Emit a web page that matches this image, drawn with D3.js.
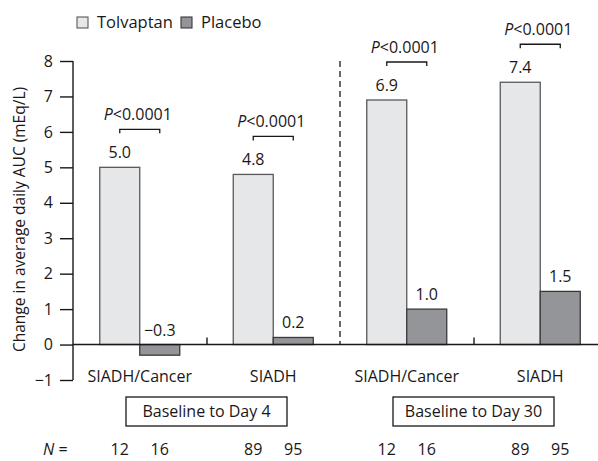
<!DOCTYPE html>
<html>
<head>
<meta charset="utf-8">
<script src="https://cdn.jsdelivr.net/npm/d3@7"></script>
<style>
  html, body { margin: 0; padding: 0; background: #fff; }
  svg { display: block; font-family: "Open Sans", "Noto Sans", sans-serif; }
</style>
</head>
<body>
<svg id="chart" width="598" height="461"></svg>
<script>
// Change in average daily serum sodium AUC, by subgroup and period
const groups = ["SIADH/Cancer (D4)", "SIADH (D4)", "SIADH/Cancer (D30)", "SIADH (D30)"];
const groupLabels = ["SIADH/Cancer", "SIADH", "SIADH/Cancer", "SIADH"];
const series = ["Tolvaptan", "Placebo"];
const tolvaptan = [5.0, 4.8, 6.9, 7.4];
const placebo = [-0.3, 0.2, 1.0, 1.5];
const nTolvaptan = [12, 89, 12, 89];
const nPlacebo = [16, 95, 16, 95];
const pValues = ["<0.0001", "<0.0001", "<0.0001", "<0.0001"];
const periods = ["Baseline to Day 4", "Baseline to Day 30"];
const yTicks = [-1, 0, 1, 2, 3, 4, 5, 6, 7, 8];

const colors = { Tolvaptan: "#e6e7e8", Placebo: "#939598" };
const ink = "#1a1718";
const fs = "16px";

const svg = d3.select("#chart");

const x = d3.scaleBand().domain(groups).range([73, 607]).paddingInner(0).paddingOuter(0);
const xs = d3.scaleBand().domain(series).range([0, 80]);
const y = d3.scaleLinear().domain([-1, 8]).range([380, 61]);

const barOffset = (x.bandwidth() - 80) / 2;

// Y axis
const yAxis = d3.axisLeft(y).tickValues(yTicks).tickSize(13).tickPadding(7)
  .tickFormat(d => d < 0 ? "\u2212" + Math.abs(d) : d);
const gy = svg.append("g").attr("transform", "translate(73,0)").call(yAxis);
gy.select(".domain").attr("d", `M0,${y(8)}V${y(-1)}`).attr("stroke", ink).attr("stroke-width", 1.4);
gy.selectAll(".tick line").attr("stroke", ink).attr("stroke-width", 1.4);
gy.selectAll(".tick text").attr("fill", ink).style("font-size", fs)
  .style("font-family", '"Open Sans", sans-serif');

// Y title
svg.append("text")
  .attr("transform", `translate(25,${(y(8) + y(-1)) / 2 - 1}) rotate(-90)`)
  .attr("text-anchor", "middle")
  .attr("fill", ink)
  .style("font-size", "15.5px")
  .text("Change in average daily AUC (mEq/L)");

// Bars
const data = groups.flatMap((g, i) => [
  { group: g, s: "Tolvaptan", v: tolvaptan[i], n: nTolvaptan[i] },
  { group: g, s: "Placebo", v: placebo[i], n: nPlacebo[i] }
]);

svg.append("g").selectAll("rect").data(data).join("rect")
  .attr("x", d => x(d.group) + barOffset + xs(d.s))
  .attr("width", xs.bandwidth())
  .attr("y", d => y(Math.max(0, d.v)))
  .attr("height", d => Math.abs(y(d.v) - y(0)))
  .attr("fill", d => colors[d.s])
  .attr("stroke", d => d.s === "Tolvaptan" ? "#58595b" : "#3a3a3c")
  .attr("stroke-width", 1.3);

// Value labels
svg.append("g").selectAll("text").data(data).join("text")
  .attr("x", d => x(d.group) + barOffset + xs(d.s) + xs.bandwidth() / 2)
  .attr("y", d => y(Math.max(0, d.v)) - 9)
  .attr("text-anchor", "middle")
  .attr("fill", ink)
  .style("font-size", fs)
  .text(d => d.v < 0 ? "\u2212" + Math.abs(d.v).toFixed(1) : d.v.toFixed(1));

// Zero baseline and group separators
svg.append("line")
  .attr("x1", 73).attr("x2", 598).attr("y1", y(0)).attr("y2", y(0))
  .attr("stroke", ink).attr("stroke-width", 1.4);
[groups[1], groups[3]].forEach(g => {
  const xp = x(g) + 0.5;
  svg.append("line").attr("x1", xp).attr("x2", xp)
    .attr("y1", y(0)).attr("y2", y(0) - 7)
    .attr("stroke", ink).attr("stroke-width", 1.4);
});
svg.append("line")
  .attr("x1", x(groups[2])).attr("x2", x(groups[2]))
  .attr("y1", y(8)).attr("y2", y(0))
  .attr("stroke", ink).attr("stroke-width", 1.3)
  .attr("stroke-dasharray", "6,4");

// Significance brackets
groups.forEach((g, i) => {
  const x1 = x(g) + barOffset + xs.bandwidth() / 2;
  const x2 = x1 + xs.bandwidth();
  const top = y(Math.max(tolvaptan[i], placebo[i]));
  const by = top - 38;
  svg.append("path")
    .attr("d", `M${x1},${by + 4}V${by}H${x2}V${by + 4}`)
    .attr("fill", "none").attr("stroke", ink).attr("stroke-width", 1.3);
  const t = svg.append("text")
    .attr("x", (x1 + x2) / 2 - 2).attr("y", by - 9)
    .attr("text-anchor", "middle").attr("fill", ink)
    .style("font-size", fs);
  t.append("tspan").style("font-style", "italic").text("P");
  t.append("tspan").text(pValues[i]);
});

// Category labels
svg.append("g").selectAll("text").data(groups).join("text")
  .attr("x", d => x(d) + x.bandwidth() / 2)
  .attr("y", 382)
  .attr("text-anchor", "middle").attr("fill", ink)
  .style("font-size", fs)
  .text((d, i) => groupLabels[i]);

// Period boxes
periods.forEach((p, i) => {
  const cx = (x(groups[2 * i]) + x(groups[2 * i + 1]) + x.bandwidth()) / 2;
  const w = 161, h = 29;
  svg.append("rect")
    .attr("x", cx - w / 2).attr("y", 397).attr("width", w).attr("height", h)
    .attr("fill", "#fff").attr("stroke", ink).attr("stroke-width", 1.3);
  svg.append("text")
    .attr("x", cx).attr("y", 417)
    .attr("text-anchor", "middle").attr("fill", ink)
    .style("font-size", fs).text(p);
});

// Sample sizes
const nY = 455;
const nRow = svg.append("text").attr("x", 43).attr("y", nY).attr("fill", ink).style("font-size", fs);
nRow.append("tspan").style("font-style", "italic").text("N");
nRow.append("tspan").text(" =");
svg.append("g").selectAll("text").data(data).join("text")
  .attr("x", d => x(d.group) + barOffset + xs(d.s) + xs.bandwidth() / 2)
  .attr("y", nY)
  .attr("text-anchor", "middle").attr("fill", ink)
  .style("font-size", fs)
  .text(d => d.n);

// Legend
const legend = svg.append("g");
const legendX = [77, 181];
series.forEach((s, i) => {
  legend.append("rect")
    .attr("x", legendX[i]).attr("y", 17).attr("width", 11).attr("height", 11)
    .attr("fill", colors[s]).attr("stroke", s === "Tolvaptan" ? "#58595b" : "#3a3a3c")
    .attr("stroke-width", 1.1);
  legend.append("text")
    .attr("x", legendX[i] + 20).attr("y", 28)
    .attr("fill", ink).style("font-size", "16.5px").text(s);
});
</script>
</body>
</html>
